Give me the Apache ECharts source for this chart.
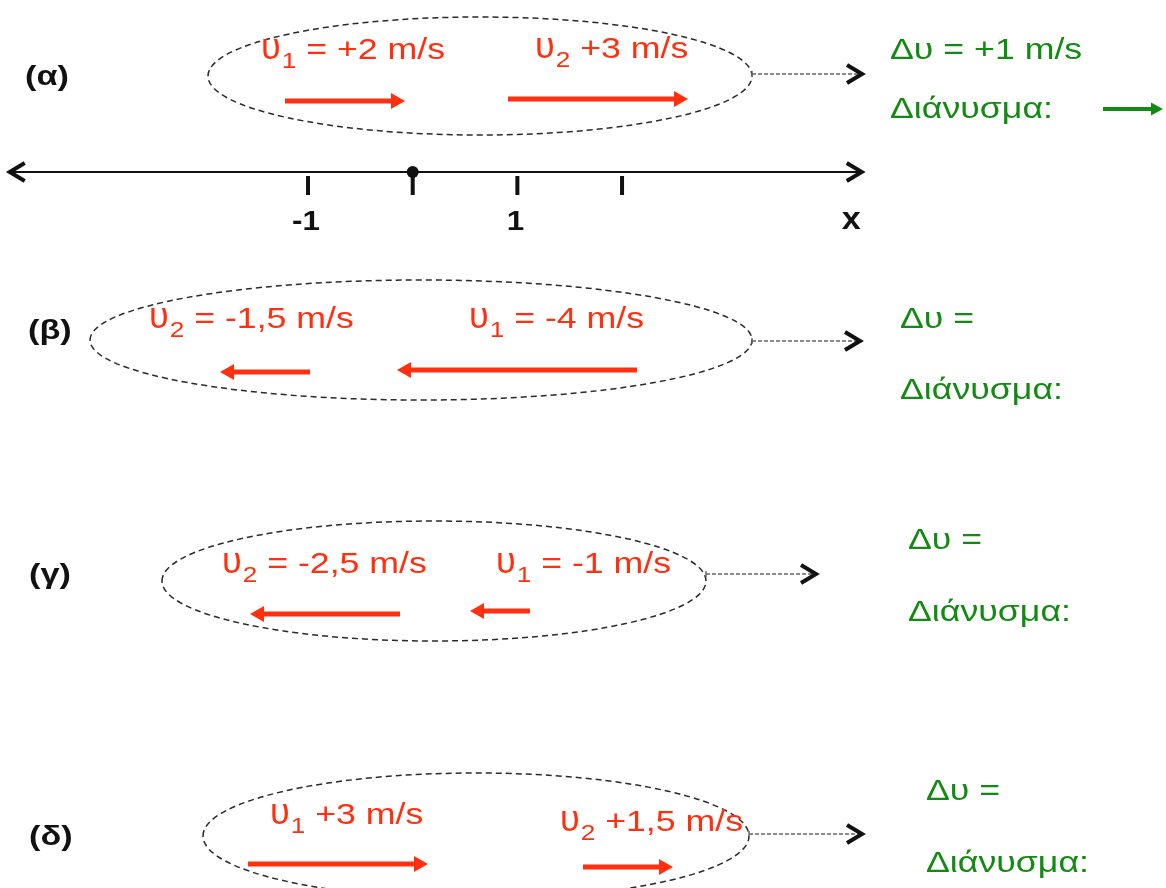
<!DOCTYPE html>
<html><head><meta charset="utf-8">
<script src="https://cdn.jsdelivr.net/npm/echarts@6/dist/echarts.min.js"></script>
<style>html,body{margin:0;padding:0;background:#fff}#c{width:1166px;height:888px}</style>
</head><body><div id="c"></div>
<script>
// ---------- data ----------
const rowLabels = ['(α)', '(β)', '(γ)', '(δ)'];
const v1 = [2, -4, -1, 3];                 // m/s
const v2 = [3, -1.5, -2.5, 1.5];           // m/s
const v1Label = ['υ1 = +2 m/s', 'υ1 = -4 m/s', 'υ1 = -1 m/s', 'υ1 +3 m/s'];
const v2Label = ['υ2 +3 m/s', 'υ2 = -1,5 m/s', 'υ2 = -2,5 m/s', 'υ2 +1,5 m/s'];
const dvLabel = ['Δυ = +1 m/s', 'Δυ =', 'Δυ =', 'Δυ ='];
const dvValue = [1, null, null, null];     // m/s (only (α) is answered)
const vectorLabel = 'Διάνυσμα:';
const numberTicks = [-1, 0, 1, 2];
const numberTickLabels = ['-1', '', '1', ''];
const numberAxisName = 'x';

// ---------- layout (pixels / m/s offsets) ----------
const W = 1166, H = 888, PX_PER_MS = 60;
const SX = 1.19; // horizontal text stretch of the original
const FS = 30;   // main text size
const RED = '#ff3010', GREEN = '#138a13';
const LAYOUT = [
  {lab:[25,78], ell:[480,76,272,59], con:[74,862], v1t:[261,51], v2t:[535,50], v1a:[101,285], v2a:[99,508], dv:[890,51], vec:[890,110], dva:[109,1103]},
  {lab:[28,332], ell:[421,340,331,60], con:[341,860], v1t:[469,320], v2t:[149,320], v1a:[370,637], v2a:[372,310], dv:[900,320], vec:[900,391], dva:null},
  {lab:[29,576], ell:[434,581,272,60], con:[574,816], v1t:[496,565], v2t:[222,565], v1a:[611,530], v2a:[614,400], dv:[908,541], vec:[908,613], dva:null},
  {lab:[29,838], ell:[476,836,273,63], con:[834,862], v1t:[270,816], v2t:[560,823], v1a:[864,248], v2a:[867,583], dv:[926,792], vec:[926,864], dva:null}
];
const NL = {y:172, from:-3.85, to:4.29, nameAt:4.19, labelY:222};

const FONT = "'Liberation Sans', Arial, sans-serif";
const ctx = document.createElement('canvas').getContext('2d');
function tw(s, font){ ctx.font = font; return ctx.measureText(s).width; }

function txt(x, y, s, size, color, weight, align, sx){
  return {type:'text', x:x, y:y, scaleX:(sx||SX), silent:true,
    style:{text:s, x:0, y:0, fill:color, font:(weight||'normal')+' '+size+'px '+FONT,
      align:align||'left', verticalAlign:'middle'}};
}
function velText(x, y, label){
  const m = label.match(/^(υ)(\d)(.*)$/);
  const fSym = 'normal 36px '+FONT, fSub = 'normal 22px '+FONT;
  const symSX = 1.0;
  const w1 = tw(m[1], fSym)*symSX, w2 = tw(m[2], fSub)*SX;
  return [txt(x, y-2, m[1], 36, RED, 'normal', 'left', symSX),
          txt(x+w1+1, y+11, m[2], 22, RED),
          txt(x+w1+1+w2, y, m[3], FS, RED)];
}
function arrow(api, startMs, v, y, color, lw, hl, hw){
  const p0 = api.coord([startMs, y]), p1 = api.coord([startMs+v, y]);
  const d = Math.sign(p1[0]-p0[0]);
  return [
    {type:'line', shape:{x1:p0[0], y1:p0[1], x2:p1[0]-d*(hl-1), y2:p1[1]}, style:{stroke:color, lineWidth:lw, lineCap:'butt'}},
    {type:'polygon', shape:{points:[[p1[0],p1[1]],[p1[0]-d*hl,p1[1]-hw],[p1[0]-d*hl,p1[1]+hw]]}, style:{fill:color}}
  ];
}
function chevron(tx, y){
  return {type:'polyline', shape:{points:[[tx-15,y-9],[tx,y],[tx-15,y+9]]}, style:{stroke:'#111', lineWidth:4, fill:null, lineJoin:'miter', lineCap:'butt'}};
}

function renderRow(params, api){
  const i = params.dataIndex, L = LAYOUT[i];
  const els = [];
  els.push(txt(L.lab[0], L.lab[1], rowLabels[i], 27, '#111', 'bold', 'left', 1.27));
  const e = L.ell;
  els.push({type:'ellipse', shape:{cx:e[0], cy:e[1], rx:e[2], ry:e[3]}, style:{fill:null, stroke:'#2a2a2a', lineWidth:1.5, lineDash:[6,4]}});
  const cx0 = e[0]+e[2];
  els.push({type:'line', shape:{x1:cx0, y1:L.con[0], x2:L.con[1]-3, y2:L.con[0]}, style:{stroke:'#666', lineWidth:1.6, lineDash:[4,2]}});
  els.push({type:'line', shape:{x1:cx0, y1:L.con[0]-3, x2:cx0, y2:L.con[0]+3}, style:{stroke:'#666', lineWidth:1.4}});
  els.push(chevron(L.con[1], L.con[0]));
  els.push(...velText(L.v1t[0], L.v1t[1], v1Label[i]));
  els.push(...velText(L.v2t[0], L.v2t[1], v2Label[i]));
  els.push(...arrow(api, L.v1a[1]/PX_PER_MS, v1[i], L.v1a[0], RED, 5, 14, 8));
  els.push(...arrow(api, L.v2a[1]/PX_PER_MS, v2[i], L.v2a[0], RED, 5, 14, 8));
  els.push(txt(L.dv[0], L.dv[1], dvLabel[i], FS, GREEN));
  els.push(txt(L.vec[0], L.vec[1], vectorLabel, FS, GREEN));
  if (dvValue[i] != null && L.dva) els.push(...arrow(api, L.dva[1]/PX_PER_MS, dvValue[i], L.dva[0], GREEN, 4, 12, 6.5));
  return {type:'group', children:els};
}

function renderTick(params, api){
  const i = params.dataIndex, t = numberTicks[i];
  const p = api.coord([t, NL.y]);
  const els = [];
  if (i === 0){
    const a = api.coord([NL.from, NL.y]), b = api.coord([NL.to, NL.y]);
    els.push({type:'line', shape:{x1:a[0]+2, y1:a[1], x2:b[0]-2, y2:b[1]}, style:{stroke:'#111', lineWidth:2.2}});
    els.push({type:'polyline', shape:{points:[[a[0]+15,a[1]-9],[a[0],a[1]],[a[0]+15,a[1]+9]]}, style:{stroke:'#111', lineWidth:4, fill:null, lineJoin:'miter'}});
    els.push(chevron(b[0], b[1]));
    const n = api.coord([NL.nameAt, NL.labelY]);
    els.push(txt(n[0], n[1]-2, numberAxisName, 31, '#111', 'bold', 'center', 1.1));
  }
  if (t === 0){
    els.push({type:'line', shape:{x1:p[0], y1:p[1], x2:p[0], y2:p[1]+23}, style:{stroke:'#111', lineWidth:4}});
    els.push({type:'circle', shape:{cx:p[0], cy:p[1], r:6}, style:{fill:'#111'}});
  } else {
    els.push({type:'line', shape:{x1:p[0], y1:p[1]+4, x2:p[0], y2:p[1]+23}, style:{stroke:'#111', lineWidth:4}});
  }
  if (numberTickLabels[i]) {
    const q = api.coord([t, NL.labelY]);
    els.push(txt(q[0]-2, q[1], numberTickLabels[i], 28, '#111', 'bold', 'center', 1.12));
  }
  return {type:'group', children:els};
}

const chart = echarts.init(document.getElementById('c'), null, {renderer:'canvas'});
chart.setOption({
  animation:false,
  backgroundColor:'#fff',
  grid:{left:0, right:0, top:0, bottom:0},
  xAxis:[
    {type:'value', min:0, max:W/PX_PER_MS, show:false},
    {type:'value', min:-412.7/104.67, max:(W-412.7)/104.67, show:false}
  ],
  yAxis:{type:'value', min:0, max:H, inverse:true, show:false},
  series:[
    {type:'custom', xAxisIndex:0, clip:false, silent:true, renderItem:renderRow,
     encode:{x:[0,1], y:2}, data:rowLabels.map((_, i) => [v1[i], v2[i], i])},
    {type:'custom', xAxisIndex:1, clip:false, silent:true, renderItem:renderTick,
     encode:{x:0, y:1}, data:numberTicks.map((t, i) => [t, i])}
  ]
});
</script></body></html>
